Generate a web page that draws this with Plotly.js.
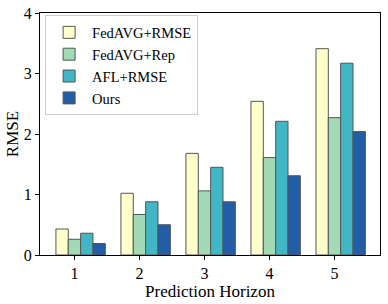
<!DOCTYPE html>
<html>
<head>
<meta charset="utf-8">
<script src="https://cdn.plot.ly/plotly-3.0.1.min.js"></script>
<style>html,body{margin:0;padding:0;background:#fff;}#chart{width:388px;height:304px;}</style>
</head>
<body>
<div id="chart"></div>
<script>
var horizons = [1, 2, 3, 4, 5];
var seriesNames = ["FedAVG+RMSE", "FedAVG+Rep", "AFL+RMSE", "Ours"];
var fedavgRmse = [0.43, 1.02, 1.68, 2.54, 3.41];
var fedavgRep = [0.26, 0.67, 1.06, 1.61, 2.27];
var aflRmse = [0.36, 0.88, 1.45, 2.21, 3.17];
var ours = [0.19, 0.50, 0.88, 1.31, 2.04];
var colors = ["#ffffcc", "#a1dab4", "#41b6c4", "#225ea8"];

var allValues = [fedavgRmse, fedavgRep, aflRmse, ours];
var w = 0.19;
var traces = allValues.map(function (vals, i) {
  return {
    type: "bar",
    name: seriesNames[i],
    x: horizons,
    y: vals,
    width: w,
    offset: (i - 1) * w - w / 2,
    marker: { color: colors[i], line: { color: "#555555", width: 1 } }
  };
});

var fam = "Liberation Serif, Times New Roman, serif";
var layout = {
  width: 388, height: 304,
  margin: { l: 40, r: 8, t: 13, b: 49 },
  paper_bgcolor: "#fff", plot_bgcolor: "#fff",
  font: { family: fam, size: 16, color: "#000" },
  showlegend: true,
  barmode: "overlay",
  xaxis: {
    range: [0.47, 5.70],
    tickvals: horizons,
    ticktext: horizons.map(String),
    tickfont: { family: fam, size: 16 },
    ticks: "outside", ticklen: 4, tickcolor: "#000",
    showline: true, mirror: true, linecolor: "#000", linewidth: 1,
    showgrid: false, zeroline: false,
    title: { text: "Prediction Horizon", font: { family: fam, size: 17 }, standoff: 2 }
  },
  yaxis: {
    range: [0, 4], dtick: 1,
    tickfont: { family: fam, size: 16 },
    ticks: "outside", ticklen: 4, tickcolor: "#000",
    showline: true, mirror: true, linecolor: "#000", linewidth: 1,
    showgrid: false, zeroline: false,
    title: { text: "RMSE", font: { family: fam, size: 17 }, standoff: 0 }
  },
  legend: {
    x: 0.015, y: 0.99, xanchor: "left", yanchor: "top",
    bgcolor: "rgba(255,255,255,0.8)", bordercolor: "#cccccc", borderwidth: 1,
    font: { family: fam, size: 14.5 },
    itemwidth: 36,
    traceorder: "normal"
  }
};

Plotly.newPlot("chart", traces, layout, { displayModeBar: false, staticPlot: true });
</script>
</body>
</html>
